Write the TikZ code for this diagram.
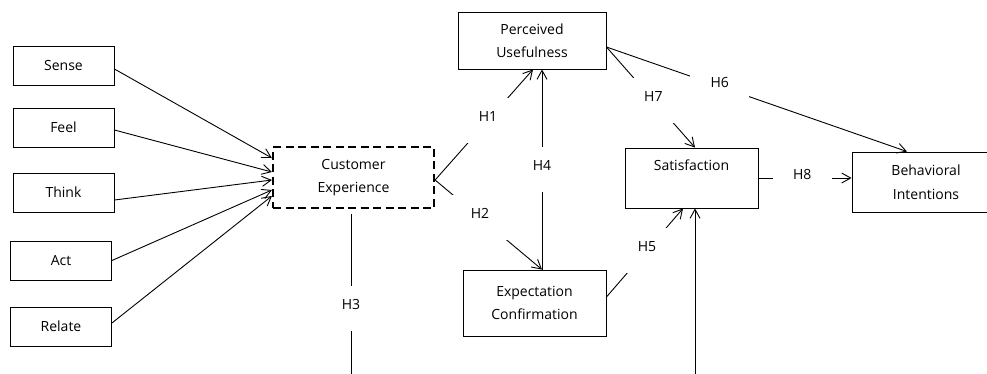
\documentclass[tikz,border=0pt]{standalone}
\usepackage{fontspec}
\setmainfont{Open Sans}
\usetikzlibrary{arrows.meta, positioning}

\begin{document}
\begin{tikzpicture}[x=1pt, y=-1pt,
    >={Straight Barb[length=9pt, width=10pt]},
    font=\fontsize{14}{23.5}\selectfont,
    box/.style={draw, line width=0.9pt, align=center, inner sep=0pt},
    dim/.style={box, minimum width=101pt, minimum height=39pt},
    hyp/.style={fill=white, minimum width=59pt, minimum height=45pt, inner sep=0pt, text height=10pt, text depth=8pt},
    link/.style={->, line width=0.9pt}]
\clip (0, 0) rectangle (987, 373);

\node[dim] (sense) at (63.5, 65.5) {Sense};
\node[dim] (feel) at (63.5, 127.5) {Feel};
\node[dim] (think) at (63.5, 192.5) {Think};
\node[dim] (act) at (61, 260.5) {Act};
\node[dim] (relate) at (61, 326.5) {Relate};
\node[box, dash pattern=on 8pt off 4.5pt, line width=2.2pt, minimum width=161pt, minimum height=61pt] (ce) at (353.5, 177.5) {Customer\\Experience};
\node[box, minimum width=148pt, minimum height=57pt] (pu) at (532, 40.5) {Perceived\\Usefulness};
\node[box, minimum width=143pt, minimum height=66pt] (ec) at (534.5, 303) {Expectation\\Confirmation};
\node[box, minimum width=133pt, minimum height=60pt, text height=10pt, text depth=25pt] (sat) at (691.5, 178) {Satisfaction};
\node[box, minimum width=148pt, minimum height=60pt] (bi) at (926, 182) {Behavioral\\Intentions};

\draw
([yshift=-3.5pt]sense.east) edge[link] ([yshift=19.5pt]ce.west)
([yshift=-2.5pt]feel.east) edge[link] ([yshift=5.5pt]ce.west)
([yshift=-7.5pt]think.east) edge[link] ([yshift=-2.5pt]ce.west)
(act.east) edge[link] ([yshift=-12.5pt]ce.west)
([yshift=3.5pt]relate.east) edge[link] ([yshift=-18.5pt]ce.west)
([yshift=-2.5pt]ce.east) edge[link] node[hyp, pos=0.54]{H1} ([xshift=1pt]pu.south)
([yshift=-2.5pt]ce.east) edge[link] node[hyp, pos=0.42]{H2} ([xshift=7.5pt]ec.north)
([xshift=7.5pt]ec.north) edge[link] node[hyp, pos=0.5]{H4} ([xshift=10pt]pu.south)
([yshift=6pt]ec.east) edge[link] node[hyp, pos=0.53]{H5} ([xshift=-8.5pt]sat.south)
([yshift=-6.5pt]pu.east) edge[link] node[hyp, pos=0.53]{H7} ([xshift=3.5pt]sat.north)
([yshift=-6.5pt]pu.east) edge[link] node[hyp, pos=0.377]{H6} ([xshift=-19pt]bi.north)
(sat.east) edge[link] node[hyp, pos=0.47]{H8} ([yshift=4pt]bi.west);

% H3 runs below the visible part
\draw[link] ([xshift=-2.5pt, yshift=-5pt]ce.south) -- node[hyp]{H3} ++(0, 189) -| ([xshift=3.5pt]sat.south);
\end{tikzpicture}
\end{document}
